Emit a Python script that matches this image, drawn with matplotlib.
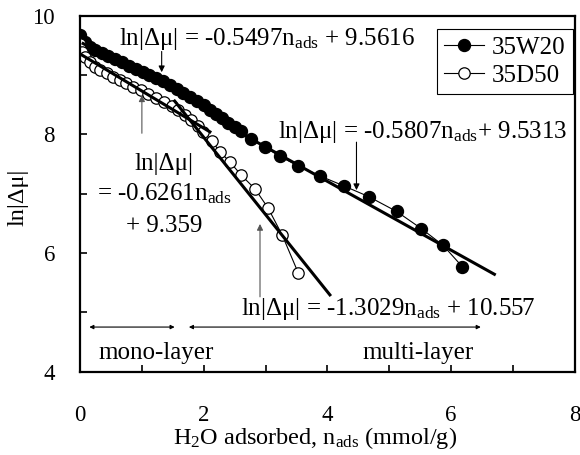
import matplotlib
matplotlib.use('Agg')
import matplotlib.pyplot as plt
import numpy as np

plt.rcParams['font.family'] = ['Liberation Serif', 'DejaVu Serif']
plt.rcParams['mathtext.fontset'] = 'custom'
plt.rcParams['mathtext.rm'] = 'Liberation Serif'
plt.rcParams['mathtext.it'] = 'Liberation Serif:italic'

# 35W20 sample, ln|dmu| vs adsorbed amount (mmol/g)
w20_n = [0.00, 0.08, 0.16, 0.24, 0.35, 0.46, 0.57, 0.68, 0.79, 0.90, 1.01, 1.12,
         1.23, 1.34, 1.45, 1.56, 1.67, 1.78, 1.89, 2.00, 2.10, 2.20, 2.30, 2.40,
         2.50, 2.60, 2.77, 2.99, 3.23, 3.53, 3.88, 4.27, 4.67, 5.12, 5.52, 5.87, 6.18]
w20_lnmu = [9.67, 9.56, 9.48, 9.42, 9.37, 9.32, 9.27, 9.22, 9.16, 9.11, 9.05, 9.00,
            8.95, 8.90, 8.83, 8.76, 8.70, 8.63, 8.56, 8.49, 8.41, 8.34, 8.27, 8.20,
            8.13, 8.05, 7.92, 7.79, 7.63, 7.47, 7.30, 7.13, 6.95, 6.70, 6.41, 6.13, 5.77]

# 35D50 sample
d50_n = [0.00, 0.03, 0.08, 0.16, 0.24, 0.32, 0.43, 0.54, 0.65, 0.75, 0.86, 0.98,
         1.10, 1.23, 1.36, 1.48, 1.59, 1.70, 1.80, 1.90, 1.99, 2.13, 2.26, 2.42,
         2.61, 2.83, 3.04, 3.27, 3.53]
d50_lnmu = [9.53, 9.39, 9.31, 9.22, 9.14, 9.08, 9.03, 8.97, 8.92, 8.86, 8.80, 8.75,
            8.69, 8.62, 8.55, 8.48, 8.41, 8.33, 8.24, 8.15, 8.04, 7.89, 7.71, 7.54,
            7.31, 7.08, 6.76, 6.30, 5.66]

# linear fits: slope, intercept, n range
fit_slope = [-0.5497, -0.5807, -0.6261, -1.3029]
fit_icpt = [9.5616, 9.5313, 9.359, 10.557]
fit_from = [0.05, 2.4, 0.03, 1.53]
fit_to = [2.6, 6.7, 2.1, 4.04]

sub = r'n$_{\mathrm{ads}}$'

fig, ax = plt.subplots(figsize=(5.8, 4.55), dpi=100)
fig.subplots_adjust(left=0.138, right=0.991, bottom=0.1835, top=0.965)

ax.plot(w20_n, w20_lnmu, '-', c='k', lw=0.8, marker='o', ms=8.6,
        mfc='k', mec='k', label='35W20', zorder=2)
ax.plot(d50_n, d50_lnmu, '-', c='k', lw=0.8, marker='o', ms=8.2,
        mfc='white', mec='k', mew=0.9, label='35D50', zorder=2)

for s, b, n0, n1 in zip(fit_slope, fit_icpt, fit_from, fit_to):
    n = np.array([n0, n1])
    ax.plot(n, s * n + b, c='k', lw=2.2, zorder=3)

fs = 18
ax.text(0.63, 9.51, 'ln|Δμ| = %.4f' % fit_slope[0] + sub + ' + %.4f' % fit_icpt[0], fontsize=fs)
ax.text(3.2, 7.94, 'ln|Δμ| = %.4f' % fit_slope[1] + sub + '+ %.4f' % fit_icpt[1], fontsize=fs)
ax.text(1.36, 7.40, 'ln|Δμ|', fontsize=fs, ha='center')
ax.text(1.36, 6.89, '= %.4f' % fit_slope[2] + sub, fontsize=fs, ha='center')
ax.text(1.36, 6.35, '+ %.3f' % fit_icpt[2], fontsize=fs, ha='center')
ax.text(2.6, 4.96, 'ln|Δμ| = %.4f' % fit_slope[3] + sub + ' + %.3f' % fit_icpt[3], fontsize=fs)

arw = dict(arrowstyle='-|>', lw=0.8, color='k', mutation_scale=9, shrinkA=0, shrinkB=0)
ax.annotate('', xy=(1.32, 9.05), xytext=(1.32, 9.40), arrowprops=arw)
ax.annotate('', xy=(4.47, 7.06), xytext=(4.47, 7.87), arrowprops=arw)
ax.annotate('', xy=(1.0, 8.66), xytext=(1.0, 8.02), arrowprops=dict(arw, color='#555555'))
ax.annotate('', xy=(2.91, 6.49), xytext=(2.91, 5.26), arrowprops=dict(arw, color='#555555'))

# adsorption regimes
dbl = dict(arrowstyle='<|-|>', lw=0.8, color='k', mutation_scale=6, shrinkA=0, shrinkB=0)
ax.annotate('', xy=(0.15, 4.75), xytext=(1.53, 4.75), arrowprops=dbl)
ax.annotate('', xy=(1.76, 4.75), xytext=(6.48, 4.75), arrowprops=dbl)
ax.text(1.23, 4.21, 'mono-layer', fontsize=fs, ha='center')
ax.text(5.46, 4.21, 'multi-layer', fontsize=fs, ha='center')

ax.set_xlim(0, 8)
ax.set_ylim(4, 10)
ax.set_xticks([0, 2, 4, 6, 8])
ax.set_xticks(np.arange(0, 9, 1), minor=True)
ax.set_yticks([4, 6, 8, 10])
ax.set_yticks(np.arange(4, 11, 1), minor=True)
ax.tick_params(which='both', direction='in', length=5, width=1.2, labelsize=16.5)
ax.tick_params(axis='x', which='major', pad=24)
ax.tick_params(axis='y', which='major', pad=18)
for sp in ax.spines.values():
    sp.set_linewidth(1.6)

ax.set_xlabel('H$_{\\mathrm{2}}$O adsorbed, ' + sub + ' (mmol/g)', fontsize=17.5)
ax.set_ylabel('ln|Δμ|', fontsize=17.5)
ax.xaxis.set_label_coords(0.475, -0.15)
ax.yaxis.set_label_coords(-0.105, 0.49)

leg = ax.legend(loc='upper right', bbox_to_anchor=(0.996, 0.963), borderaxespad=0,
                fontsize=fs, handlelength=1.6, handletextpad=0.3, labelspacing=0.2,
                borderpad=0.3, fancybox=False, edgecolor='k', framealpha=1)
leg.get_frame().set_linewidth(0.8)

plt.savefig('out.png', dpi=100)
